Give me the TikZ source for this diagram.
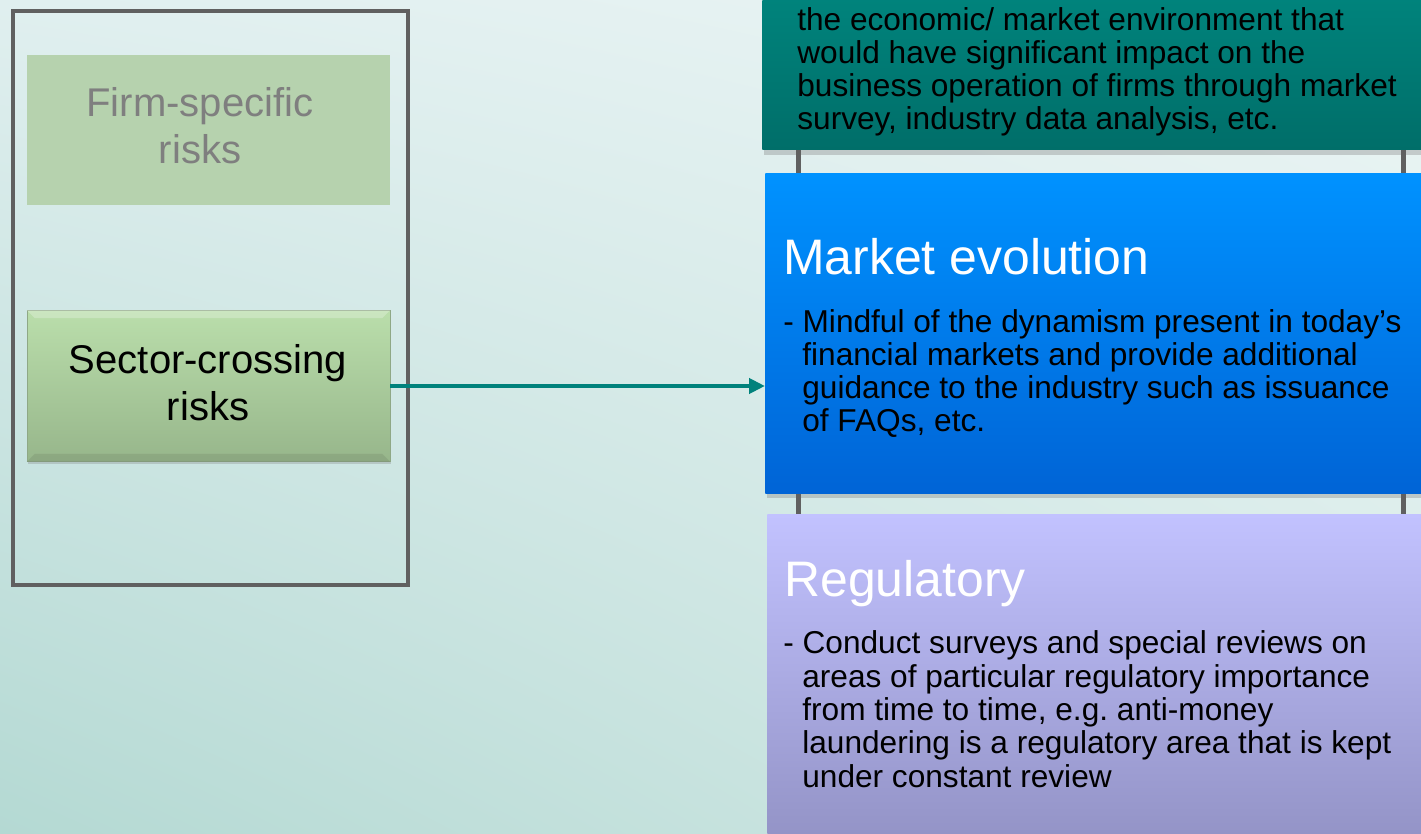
\documentclass[tikz,border=0pt]{standalone}
\usepackage{fontspec}
\setmainfont{Liberation Sans}
\usetikzlibrary{arrows.meta, shadows, shadings, calc}

\definecolor{bgTL}{HTML}{E0EFEF}
\definecolor{bgTR}{HTML}{EBF5F5}
\definecolor{bgBL}{HTML}{B4D9D3}
\definecolor{bgBR}{HTML}{D6EAE7}
\definecolor{frameGray}{HTML}{606060}
\definecolor{firmGreen}{HTML}{B6D2AE}
\definecolor{firmGray}{HTML}{7F7F7F}
\definecolor{sectorTop}{HTML}{BADEAB}
\definecolor{sectorBot}{HTML}{97B68B}
\definecolor{sectorEdge}{HTML}{8FA886}
\definecolor{arrowTeal}{HTML}{00827C}
\definecolor{surveyTop}{HTML}{008A82}
\definecolor{surveyBot}{HTML}{006E69}
\definecolor{marketTop}{HTML}{0092FF}
\definecolor{marketBot}{HTML}{0064D6}
\definecolor{regTop}{HTML}{C2C2FF}
\definecolor{regBot}{HTML}{8E8EC0}

\newcommand{\riskfont}{\fontsize{22.8}{27}\selectfont}
\newcommand{\titlefont}{\fontsize{28.4}{34}\selectfont}
\newcommand{\bodyfont}{\fontsize{18}{18.95}\selectfont\frenchspacing}
\newcommand{\contline}{\hspace*{0.38cm}}

\begin{document}
\begin{tikzpicture}[x = 0.02cm, y = -0.02cm,
  panel/.style = {draw = frameGray, line width = 0.09cm, minimum width = 7.9cm, minimum height = 11.48cm, anchor = north west, inner sep = 0},
  riskbox/.style = {minimum width = 7.26cm, minimum height = 3.02cm, inner sep = 0},
  risktext/.style = {font = \riskfont, align = center, inner sep = 0, anchor = base},
  card/.style = {anchor = north west, inner sep = 0, minimum width = 13.6cm, drop shadow = {shadow xshift = 0.03cm, shadow yshift = -0.1cm, opacity = 0.35}},
  cardtitle/.style = {font = \titlefont, text = white, anchor = base west, inner sep = 0},
  cardtext/.style = {font = \bodyfont, align = left, anchor = base west, inner sep = 0},
  rail/.style = {draw = frameGray, line width = 0.1cm},
  flow/.style = {draw = arrowTeal, line width = 0.08cm, -{Triangle[length = 0.32cm, width = 0.3cm]}}]
\useasboundingbox (0,0) rectangle (1421,834);
\clip (0,0) rectangle (1421,834);
\shade [upper left = bgTL, upper right = bgTR, lower left = bgBL, lower right = bgBR] (0,0) rectangle (1421,834);

% left panel
\node (panel) at (11,9) [panel] {};
\node (firm) at (208.5,130) [riskbox, fill = firmGreen] {};
\node (firmtext) at (200,164) [risktext, text = firmGray] {Firm-specific\\risks};
\node (sector) at (208.5,386) [riskbox, top color = sectorTop, bottom color = sectorBot, draw = sectorEdge, drop shadow = {shadow xshift = 0.02cm, shadow yshift = -0.06cm, opacity = 0.3}] {};
\fill [white, opacity = 0.25] (sector.north west) -- (sector.north east) -- ++(-8,8) -- ($(sector.north west)+(8,8)$) -- cycle;
\fill [black, opacity = 0.08] (sector.south west) -- (sector.south east) -- ++(-8,-8) -- ($(sector.south west)+(8,-8)$) -- cycle;
\node (sectortext) at (208,421) [risktext] {Sector-crossing\\risks};

% right cards
\node (survey) at (762,150) [card, anchor = south west, minimum height = 4cm, top color = surveyTop, bottom color = surveyBot] {};
\node (market) at (765,173) [card, minimum height = 6.4cm, top color = marketTop, bottom color = marketBot] {};
\node (reg) at (767,514) [card, minimum height = 7.2cm, top color = regTop, bottom color = regBot] {};

\coordinate (railL) at (798,0);
\coordinate (railR) at (1403,0);
\foreach \r in {railL, railR} {
  \draw [rail] (\r |- survey.south) -- (\r |- market.north);
  \draw [rail] (\r |- market.south) -- (\r |- reg.north);
}

\node (surveytext) at (797,130) [cardtext] {the economic/ market environment that\\would have significant impact on the\\business operation of firms through market\\survey, industry data analysis, etc.};
\node (markettitle) at (783,275) [cardtitle] {Market evolution};
\node (markettext) at (783,432) [cardtext] {- Mindful of the dynamism present in today's\\\contline financial markets and provide additional\\\contline guidance to the industry such as issuance\\\contline of FAQs, etc.};
\node (regtitle) at (784,597) [cardtitle] {Regulatory};
\node (regtext) at (783,787) [cardtext] {- Conduct surveys and special reviews on\\\contline areas of particular regulatory importance\\\contline from time to time, e.g. anti-money\\\contline laundering is a regulatory area that is kept\\\contline under constant review};

\draw [flow] (sector) -- (sector -| market.west);
\end{tikzpicture}
\end{document}
